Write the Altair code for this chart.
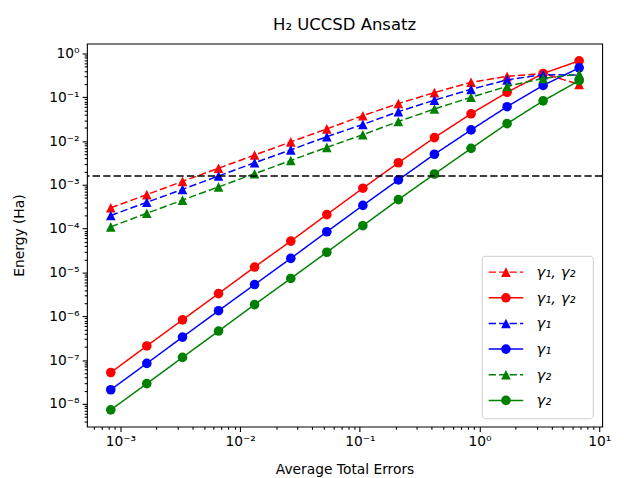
import altair as alt
import pandas as pd

# ---------------- data ----------------
x_vals = [0.00083, 0.00166, 0.0033, 0.0066, 0.0132, 0.0265, 0.053,
          0.106, 0.21, 0.42, 0.85, 1.7, 3.4, 6.8]

red_tri = [3.0e-4, 6.0e-4, 1.2e-3, 2.4e-3, 4.8e-3, 9.6e-3, 1.9e-2,
           3.8e-2, 7.2e-2, 0.128, 0.22, 0.30, 0.35, 0.197]
red_circ = [5.2e-8, 2.1e-7, 8.3e-7, 3.3e-6, 1.33e-5, 5.2e-5, 2.1e-4,
            8.4e-4, 3.2e-3, 0.012, 0.042, 0.13, 0.35, 0.68]
blue_tri = [2.0e-4, 4.0e-4, 7.9e-4, 1.6e-3, 3.2e-3, 6.3e-3, 0.0126,
            0.024, 0.047, 0.086, 0.152, 0.25, 0.33, 0.32]
blue_circ = [2.1e-8, 8.4e-8, 3.35e-7, 1.34e-6, 5.3e-6, 2.1e-5, 8.5e-5,
             3.4e-4, 1.3e-3, 5.0e-3, 0.018, 0.061, 0.187, 0.47]
green_tri = [1.1e-4, 2.25e-4, 4.5e-4, 9.0e-4, 1.8e-3, 3.6e-3, 7.2e-3,
             0.014, 0.028, 0.054, 0.10, 0.178, 0.27, 0.34]
green_circ = [7.3e-9, 2.9e-8, 1.15e-7, 4.6e-7, 1.85e-6, 7.3e-6, 2.9e-5,
              1.17e-4, 4.6e-4, 1.77e-3, 6.8e-3, 0.025, 0.083, 0.24]

series_keys = ["rt", "rc", "bt", "bc", "gt", "gc"]
series_labels = ["\u03b3\u2081, \u03b3\u2082", "\u03b3\u2081, \u03b3\u2082",
                 "\u03b3\u2081", "\u03b3\u2081", "\u03b3\u2082", "\u03b3\u2082"]
series_values = [red_tri, red_circ, blue_tri, blue_circ, green_tri, green_circ]

threshold = [1.6e-3]

x_major = [1e-3, 1e-2, 1e-1, 1.0, 10.0]
y_major = [1e-8, 1e-7, 1e-6, 1e-5, 1e-4, 1e-3, 1e-2, 1e-1, 1.0]
x_minor = [m * 10.0 ** e for e in range(-4, 1) for m in range(2, 10)
           if 5.25e-4 <= m * 10.0 ** e <= 10.59]
y_minor = [m * 10.0 ** e for e in range(-9, 0) for m in range(2, 10)
           if 3.03e-9 <= m * 10.0 ** e <= 1.68]

title_text = "H\u2082 UCCSD Ansatz"
x_title = "Average Total Errors"
y_title = "Energy (Ha)"

# ---------------- tables ----------------
rows = []
for key, vals in zip(series_keys, series_values):
    for i, (xv, yv) in enumerate(zip(x_vals, vals)):
        rows.append({"series": key, "i": i, "x": xv, "y": yv})
df = pd.DataFrame(rows)

leg_df = pd.DataFrame({"series": series_keys, "label": series_labels,
                       "row": list(range(len(series_keys)))})

# ---------------- styles ----------------
RED, BLUE, GREEN = "#ff0000", "#0000ff", "#008000"
TRI = "M0,-1L1,1L-1,1Z"
DASH = [7.4, 3.2]
SOLID = [1, 0]
FONT = "DejaVu Sans"

xs = alt.Scale(type="log", domain=[5.25e-4, 10.59], nice=False)
ys = alt.Scale(type="log", domain=[3.03e-9, 1.68], nice=False)
cs = alt.Scale(domain=series_keys, range=[RED, RED, BLUE, BLUE, GREEN, GREEN])
ds = alt.Scale(domain=series_keys, range=[DASH, SOLID, DASH, SOLID, DASH, SOLID])
ss = alt.Scale(domain=series_keys, range=[TRI, "circle", TRI, "circle", TRI, "circle"])

is_major = "abs(log(datum.value)/LN10 - round(log(datum.value)/LN10)) < 0.001"
exp_str = "toString(round(log(datum.value)/LN10))"
sup = exp_str
for a, b in [("-", "\u207b"), ("0", "\u2070"), ("1", "\u00b9"), ("2", "\u00b2"),
             ("3", "\u00b3"), ("4", "\u2074"), ("5", "\u2075"), ("6", "\u2076"),
             ("7", "\u2077"), ("8", "\u2078"), ("9", "\u2079")]:
    sup = f"replace({sup}, '{a}', '{b}')"
label_expr = f"({is_major}) ? '10' + {sup} : ''"
tick_size = {"condition": {"test": is_major, "value": 4.9}, "value": 2.8}

xaxis = alt.Axis(values=x_major + x_minor, labelExpr=label_expr, tickSize=tick_size,
                 tickWidth=1.1, tickColor="black", domain=False, grid=False,
                 labelOverlap=False, labelFontSize=14, labelFont=FONT,
                 labelColor="black", labelPadding=3, title=x_title,
                 titleFontSize=14, titleFont=FONT, titleFontWeight="normal",
                 titleColor="black", titleBaseline="alphabetic", titleY=48)
yaxis = alt.Axis(values=y_major + y_minor, labelExpr=label_expr, tickSize=tick_size,
                 tickWidth=1.1, tickColor="black", domain=False, grid=False,
                 labelOverlap=False, labelFontSize=14, labelFont=FONT,
                 labelColor="black", labelPadding=3, title=y_title,
                 titleFontSize=14, titleFont=FONT, titleFontWeight="normal",
                 titleColor="black", titleBaseline="alphabetic", titleX=-64,
                 titleY=194, titleAngle=270)

X = alt.X("x:Q", scale=xs, axis=xaxis)
Y = alt.Y("y:Q", scale=ys, axis=yaxis)
C = alt.Color("series:N", scale=cs, legend=None)
D = alt.StrokeDash("series:N", scale=ds, legend=None)
S = alt.Shape("series:N", scale=ss, legend=None)

layers = []
for key in series_keys:
    base = alt.Chart(df[df["series"] == key])
    layers.append(base.mark_line(strokeWidth=1.5).encode(x=X, y=Y, color=C, strokeDash=D, order="i:Q"))
    layers.append(base.mark_point(filled=True, opacity=1, size=95, strokeWidth=0)
                  .encode(x=X, y=Y, color=C, shape=S))

hline = alt.Chart(pd.DataFrame({"y": threshold})).mark_rule(
    color="black", strokeWidth=1.5, strokeDash=DASH).encode(y=Y)
layers.append(hline)

# ---------------- legend ----------------
leg_box = alt.Chart(pd.DataFrame({"a": [0]})).mark_rect(
    fill="white", fillOpacity=0.8, stroke="#cccccc", strokeWidth=1, cornerRadius=3
).encode(x=alt.value(400.5), x2=alt.value(513), y=alt.value(215.5), y2=alt.value(380))

leg_base = alt.Chart(leg_df).transform_calculate(py="231.5 + 26 * datum.row")
PY = alt.Y("py:Q", scale=None, axis=None)
leg_line = leg_base.mark_rule(strokeWidth=1.5).encode(
    x=alt.value(407), x2=alt.value(442), y=PY, color=C, strokeDash=D)
leg_pts = leg_base.mark_point(filled=True, opacity=1, size=95, strokeWidth=0).encode(
    x=alt.value(424.5), y=PY, color=C, shape=S)
leg_txt = leg_base.mark_text(align="left", baseline="middle", fontSize=15, font=FONT,
                             fontStyle="italic", color="black").encode(
    x=alt.value(455.5), y=PY, text="label:N")
layers += [leg_box, leg_line, leg_pts, leg_txt]

chart = alt.layer(*layers).properties(
    width=522, height=388,
    title=alt.Title(title_text, fontSize=16.7, font=FONT, fontWeight="normal",
                    color="black", anchor="middle", baseline="alphabetic",
                    frame="group", offset=11, dy=14),
    autosize=alt.AutoSizeParams(type="none"),
    padding={"left": 80, "top": 33, "right": 14, "bottom": 49},
).configure(font=FONT, background="white").configure_view(stroke="black", strokeWidth=1.1)

chart.save("out.html", embed_options={"renderer": "svg", "actions": False})
